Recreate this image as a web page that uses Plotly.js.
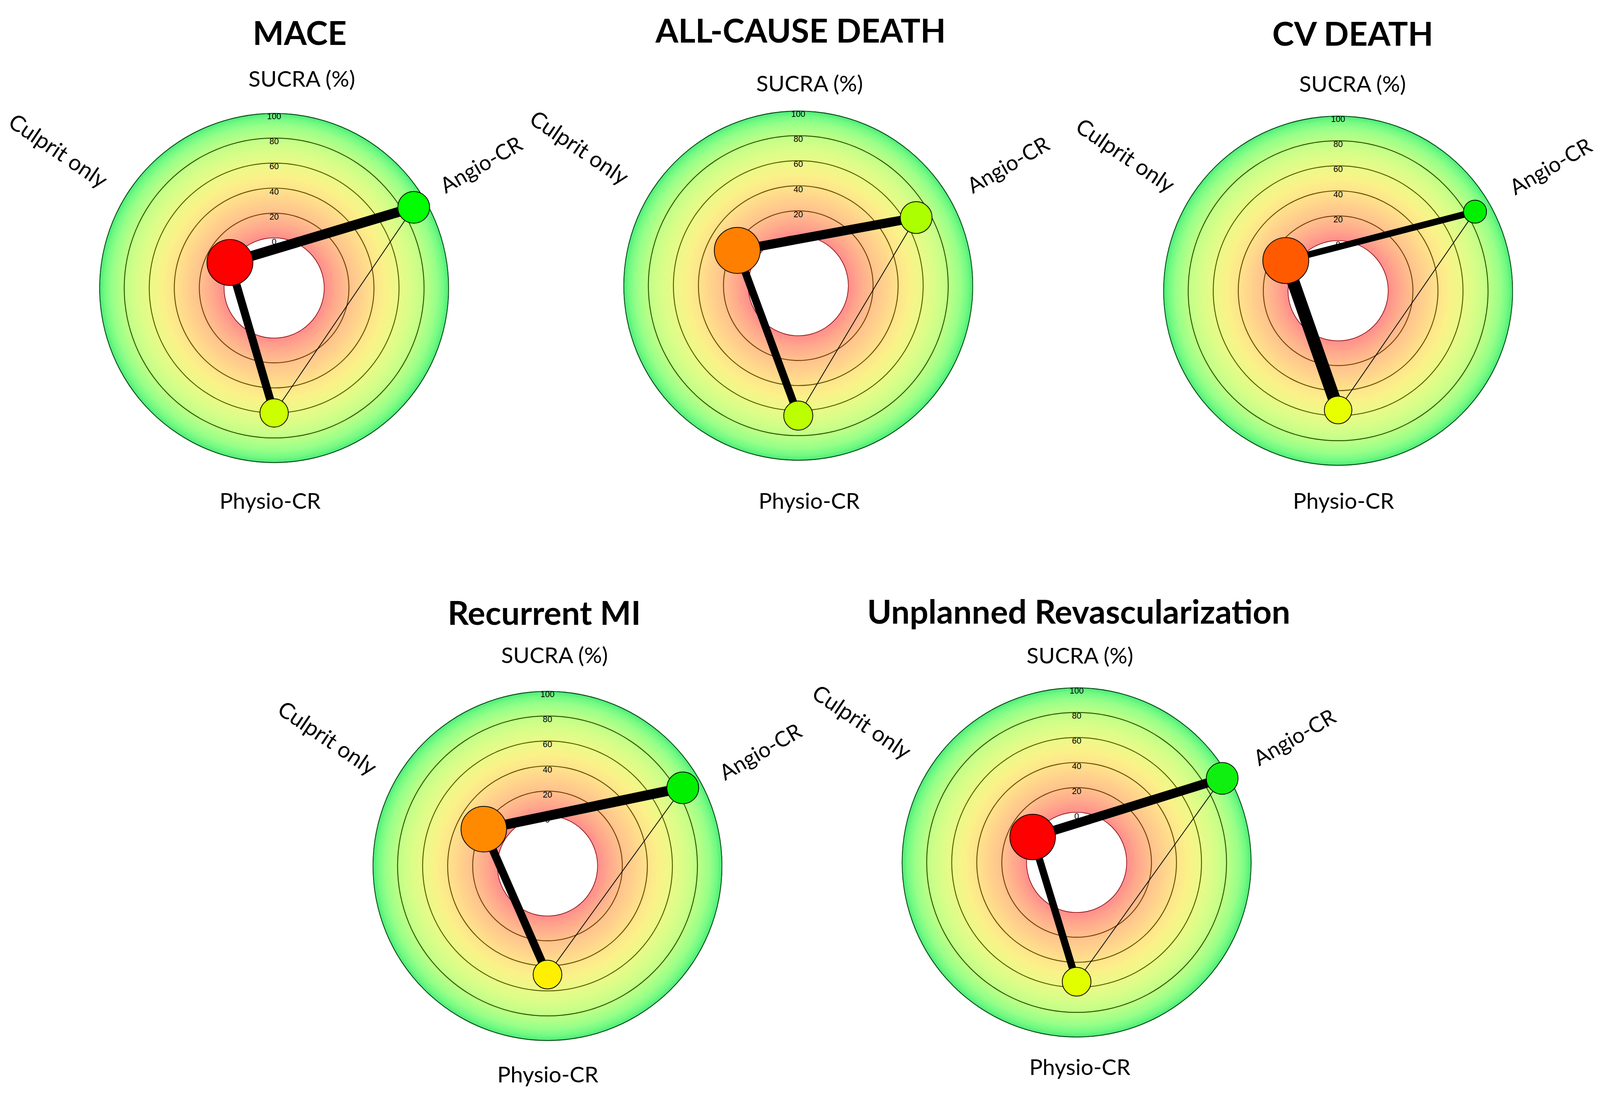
<!DOCTYPE html>
<html>
<head>
<meta charset="utf-8">
<script src="https://cdn.plot.ly/plotly-3.0.1.min.js"></script>
<style>
html,body{margin:0;padding:0;background:#ffffff;overflow:hidden;}
#chart{position:absolute;left:0;top:0;}
</style>
</head>
<body>
<div id="chart"></div>
<script>
// ---------------- DATA ----------------
const treatments = ['Angio-CR', 'Physio-CR', 'Culprit only'];
const outcomes = ['MACE', 'ALL-CAUSE DEATH', 'CV DEATH', 'Recurrent MI', 'Unplanned Revascularization'];
const axisTitle = 'SUCRA (%)';
const radialTicks = [0, 20, 40, 60, 80, 100];

// SUCRA (%) per outcome, order = treatments
const sucraMACE   = [89, 60, 1];
const sucraDeath  = [69, 64, 16.5];
const sucraCV     = [86.5, 55.5, 8.5];
const sucraMI     = [85, 47, 19];
const sucraRevasc = [94.5, 55.5, 0.8];

// node colours as drawn in the figure
const colorMACE   = ['#00ff00', '#ccff00', '#ff0000'];
const colorDeath  = ['#acff00', '#bcff00', '#ff8000'];
const colorCV     = ['#00f000', '#e8ff00', '#ff5a00'];
const colorMI     = ['#00f000', '#fff000', '#ff8a00'];
const colorRevasc = ['#10f010', '#e2ff00', '#ff0000'];

// node size (diameter) per treatment
const nodeMACE   = [83, 74, 120];
const nodeDeath  = [83, 76, 120];
const nodeCV     = [60, 72, 120];
const nodeMI     = [83, 75, 119];
const nodeRevasc = [83, 75, 119];

// network edges: [from, to] indices into treatments
const edges = [[2, 0], [2, 1], [0, 1]];
// edge thickness per outcome, order = edges
const edgeMACE   = [26, 21, 2];
const edgeDeath  = [24, 20, 2];
const edgeCV     = [17, 33, 2];
const edgeMI     = [26, 21, 2];
const edgeRevasc = [24, 19, 2];

// ---------------- STYLE / LAYOUT ----------------
const REFW = 4179, REFH = 2815, R = 457, HOLE = 130 / 457;
const VW = window.innerWidth || REFW, VH = window.innerHeight || REFH;
const S = Math.min(VW / REFW, VH / REFH);
const RMIN = -100 * HOLE / (1 - HOLE);   // empty centre of the target
const FONT = 'Lato, "Open Sans", sans-serif';

const panels = [
  {sucra: sucraMACE,   col: colorMACE,   node: nodeMACE,   edge: edgeMACE,
   c: [716, 737],  title: [783, 82],   sub: [788, 200],  phys: [706, 1280], culp: [153, 384],  ang: [1256, 420]},
  {sucra: sucraDeath,  col: colorDeath,  node: nodeDeath,  edge: edgeDeath,
   c: [2085, 731], title: [2091, 76],  sub: [2114, 212], phys: [2113, 1280], culp: [1514, 376], ang: [2633, 420]},
  {sucra: sucraCV,     col: colorCV,     node: nodeCV,     edge: edgeCV,
   c: [3495, 744], title: [3533, 84],  sub: [3533, 213], phys: [3509, 1280], culp: [2940, 396], ang: [4050, 424]},
  {sucra: sucraMI,     col: colorMI,     node: nodeMI,     edge: edgeMI,
   c: [1430, 2216], title: [1422, 1566], sub: [1448, 1675], phys: [1431, 2748], culp: [856, 1887], ang: [1986, 1922]},
  {sucra: sucraRevasc, col: colorRevasc, node: nodeRevasc, edge: edgeRevasc,
   c: [2812, 2207], title: [2817, 1563], sub: [2821, 1676], phys: [2821, 2729], culp: [2252, 1846], ang: [3381, 1885]}
];

// background gradient stops (radial value -> rgb)
const gradStops = [
  [0, [255, 140, 140]], [10, [255, 170, 140]], [20, [255, 193, 142]], [30, [255, 210, 140]],
  [40, [255, 227, 140]], [50, [250, 242, 136]], [60, [234, 250, 136]], [70, [216, 253, 136]],
  [80, [192, 255, 136]], [90, [152, 255, 136]], [96, [112, 250, 130]], [100, [72, 232, 120]]
];
const ringColors = ['#8a0a0a', '#7a4300', '#6a5200', '#586000', '#2c5c00', '#0c4a14'];

function gradColor(v) {
  for (let i = 1; i < gradStops.length; i++) {
    const [v1, c1] = gradStops[i], [v0, c0] = gradStops[i - 1];
    if (v <= v1) {
      const t = (v - v0) / (v1 - v0);
      const c = c0.map((x, k) => Math.round(x + (c1[k] - x) * t));
      return 'rgb(' + c.join(',') + ')';
    }
  }
  return 'rgb(' + gradStops[gradStops.length - 1][1].join(',') + ')';
}

const thetaOf = i => 60 + 120 * i;
const px = x => x / REFW;
const py = y => 1 - y / REFH;

const data = [];
const layout = {
  width: VW, height: VH,
  margin: {l: 0, r: 0, t: 0, b: 0, pad: 0},
  paper_bgcolor: '#ffffff',
  showlegend: false,
  annotations: []
};

function ann(text, p, size, angle) {
  layout.annotations.push({
    xref: 'paper', yref: 'paper', x: px(p[0]), y: py(p[1]),
    xanchor: 'center', yanchor: 'middle', showarrow: false,
    text: text, textangle: angle || 0,
    font: {family: FONT, size: size * S, color: '#000000'}
  });
}

panels.forEach((p, k) => {
  const sp = k === 0 ? 'polar' : 'polar' + (k + 1);
  const cx = p.c[0], cy = p.c[1];
  layout[sp] = {
    domain: {x: [px(cx - R), px(cx + R)], y: [py(cy + R), py(cy - R)]},
    hole: 0,
    bgcolor: 'rgba(0,0,0,0)',
    barmode: 'overlay',
    radialaxis: {range: [RMIN, 100], visible: false},
    angularaxis: {visible: false, rotation: 90, direction: 'clockwise'}
  };

  // gradient background
  const steps = [];
  for (let v = 0; v < 100; v += 1) steps.push(v);
  data.push({
    type: 'barpolar', subplot: sp, hoverinfo: 'skip',
    base: steps, r: steps.map(v => Math.min(1.3, 100 - v)), theta: steps.map(() => 0),
    width: steps.map(() => 360),
    marker: {color: steps.map(v => gradColor(v + 0.5)), line: {width: 0}}
  });
  // grid rings
  data.push({
    type: 'barpolar', subplot: sp, hoverinfo: 'skip',
    base: radialTicks.map(t => t === 0 ? 0 : (t === 100 ? 99.3 : t - 0.38)),
    r: radialTicks.map(t => t === 0 ? 0.5 : (t === 100 ? 0.7 : 0.76)),
    theta: radialTicks.map(() => 0), width: radialTicks.map(() => 360),
    marker: {color: ringColors, line: {width: 0}}
  });
  // edges
  edges.forEach((e, j) => {
    data.push({
      type: 'scatterpolar', subplot: sp, mode: 'lines', hoverinfo: 'skip', cliponaxis: false,
      r: [p.sucra[e[0]], p.sucra[e[1]]], theta: [thetaOf(e[0]), thetaOf(e[1])],
      line: {color: '#000000', width: p.edge[j] * S}
    });
  });
  // nodes
  data.push({
    type: 'scatterpolar', subplot: sp, mode: 'markers', hoverinfo: 'skip', cliponaxis: false,
    r: p.sucra, theta: treatments.map((t, i) => thetaOf(i)),
    marker: {size: p.node.map(v => v * S), color: p.col, opacity: 1, line: {color: '#000000', width: 2 * S}}
  });
  // radial tick labels
  data.push({
    type: 'scatterpolar', subplot: sp, mode: 'text', hoverinfo: 'skip', cliponaxis: false,
    r: radialTicks, theta: radialTicks.map(() => 0), text: radialTicks.map(String),
    textposition: 'bottom center',
    textfont: {family: '"Liberation Sans", Arial, sans-serif', size: 22 * S, color: '#000000'}
  });

  ann('<b>' + outcomes[k] + '</b>', p.title, 86, 0);
  ann(axisTitle, p.sub, 58, 0);
  ann(treatments[1], p.phys, 58, 0);
  ann(treatments[2], p.culp, 58, 34);
  ann(treatments[0], p.ang, 56, -30);
});

Plotly.newPlot('chart', data, layout, {staticPlot: true, displayModeBar: false});
</script>
</body>
</html>
